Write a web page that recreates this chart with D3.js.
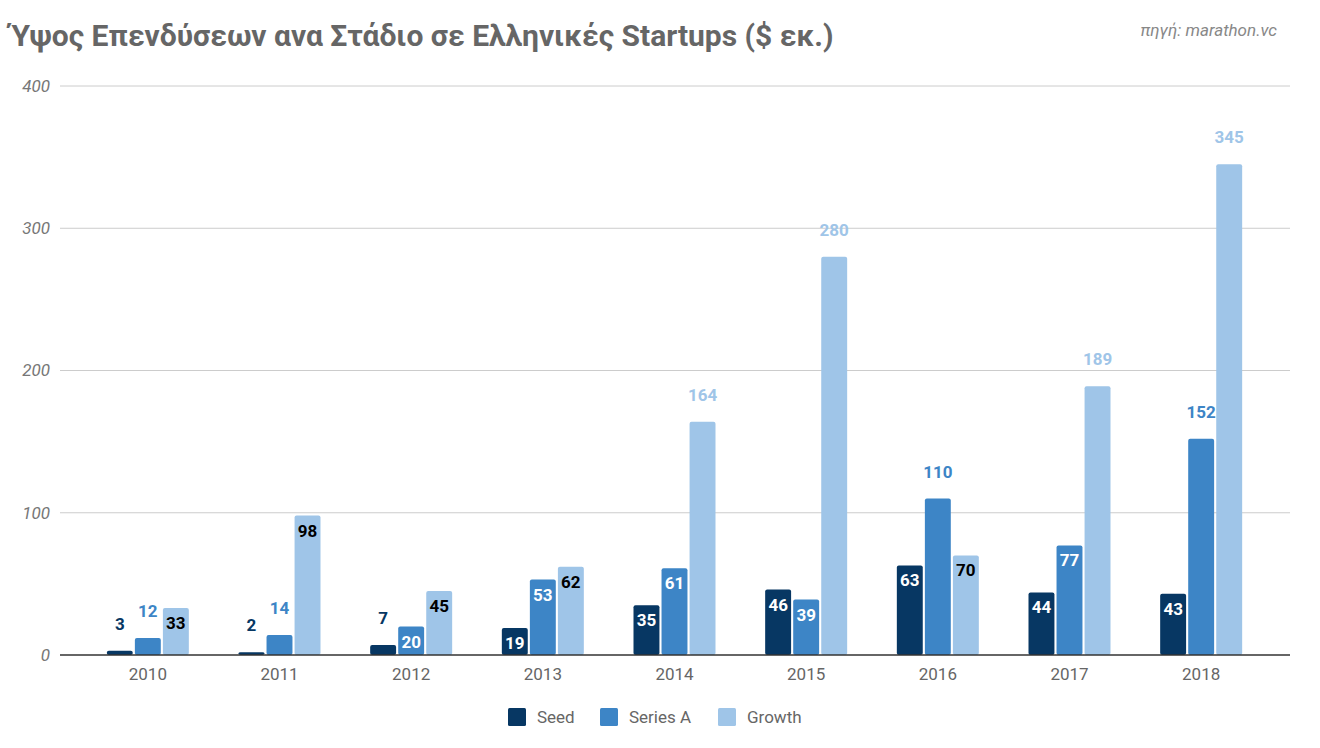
<!DOCTYPE html>
<html>
<head>
<meta charset="utf-8">
<script src="https://cdn.jsdelivr.net/npm/d3@7"></script>
<style>
  body { margin: 0; background: #fff; }
  svg { display: block; font-family: Roboto, "Noto Sans", sans-serif; }
</style>
</head>
<body>
<div id="chart"></div>
<script>
const years = ["2010", "2011", "2012", "2013", "2014", "2015", "2016", "2017", "2018"];
const seriesNames = ["Seed", "Series A", "Growth"];
const seed = [3, 2, 7, 19, 35, 46, 63, 44, 43];
const seriesA = [12, 14, 20, 53, 61, 39, 110, 77, 152];
const growth = [33, 98, 45, 62, 164, 280, 70, 189, 345];
const yTicks = [0, 100, 200, 300, 400];

const colors = ["#073763", "#3d85c6", "#9fc5e8"];
const insideText = ["#fff", "#fff", "#000"];

const W = 1320, H = 748;
const svg = d3.select("#chart").append("svg")
  .attr("width", W)
  .attr("height", H);

const rows = years.map((y, i) => ({ year: y, values: [seed[i], seriesA[i], growth[i]] }));

const x = d3.scaleBand().domain(years).range([82, 1267]).padding(0);
const xs = d3.scaleBand().domain(seriesNames).range([-41, 41]).paddingInner(0.075);
const y = d3.scaleLinear().domain([0, 400]).range([655, 86]);

// title + source
svg.append("text")
  .attr("x", 10).attr("y", 46)
  .attr("font-size", 30).attr("font-weight", "bold")
  .attr("fill", "#666")
  .text("Ύψος Επενδύσεων ανα Στάδιο σε Ελληνικές Startups ($ εκ.)");

svg.append("text")
  .attr("x", 1277).attr("y", 36)
  .attr("text-anchor", "end")
  .attr("font-size", 17).attr("font-style", "italic")
  .attr("fill", "#888")
  .text("πηγή: marathon.vc");

// grid
const grid = svg.append("g");
grid.selectAll("line").data(yTicks.filter(d => d > 0)).join("line")
  .attr("x1", 60).attr("x2", 1290)
  .attr("y1", d => y(d)).attr("y2", d => y(d))
  .attr("stroke", "#cccccc").attr("stroke-width", 1);

// y axis labels
const yAxis = svg.append("g")
  .attr("transform", "translate(60,0)")
  .call(d3.axisLeft(y).tickValues(yTicks).tickSize(0).tickPadding(10));
yAxis.select(".domain").remove();
yAxis.selectAll("text")
  .attr("font-size", 17).attr("font-style", "italic")
  .attr("fill", "#777").attr("font-family", "Roboto, sans-serif");

// bars
const groups = svg.append("g").selectAll("g").data(rows).join("g")
  .attr("transform", d => `translate(${x(d.year) + x.bandwidth() / 2},0)`);

groups.selectAll("rect").data(d => d.values.map((v, k) => ({ v, k }))).join("rect")
  .attr("x", d => xs(seriesNames[d.k]))
  .attr("width", xs.bandwidth())
  .attr("y", d => y(d.v))
  .attr("height", d => y(0) - y(d.v))
  .attr("rx", 2)
  .attr("fill", d => colors[d.k]);

// value labels: inside for mid-sized bars, above otherwise
const inside = v => v > 15 && v < 100;
groups.selectAll("text.val").data(d => d.values.map((v, k) => ({ v, k }))).join("text")
  .attr("class", "val")
  .attr("x", d => xs(seriesNames[d.k]) + xs.bandwidth() / 2)
  .attr("y", d => inside(d.v) ? y(d.v) + 21 : y(d.v) - 21)
  .attr("text-anchor", "middle")
  .attr("font-size", 17).attr("font-weight", "bold")
  .attr("fill", d => inside(d.v) ? insideText[d.k] : colors[d.k])
  .text(d => d.v);

// baseline
svg.append("line")
  .attr("x1", 60).attr("x2", 1290)
  .attr("y1", y(0)).attr("y2", y(0))
  .attr("stroke", "#333").attr("stroke-width", 1.5);

// x axis labels
const xAxis = svg.append("g")
  .attr("transform", `translate(0,${y(0)})`)
  .call(d3.axisBottom(x).tickSize(0).tickPadding(13));
xAxis.select(".domain").remove();
xAxis.selectAll("text")
  .attr("font-size", 17).attr("fill", "#666")
  .attr("font-family", "Roboto, sans-serif");

// legend
const legendX = [508, 600, 718];
const legend = svg.append("g").selectAll("g").data(seriesNames).join("g")
  .attr("transform", (d, i) => `translate(${legendX[i]},708)`);
legend.append("rect")
  .attr("width", 18).attr("height", 18).attr("rx", 1.5)
  .attr("fill", (d, i) => colors[i]);
legend.append("text")
  .attr("x", 29).attr("y", 15)
  .attr("font-size", 17).attr("fill", "#666")
  .text(d => d);
</script>
</body>
</html>
